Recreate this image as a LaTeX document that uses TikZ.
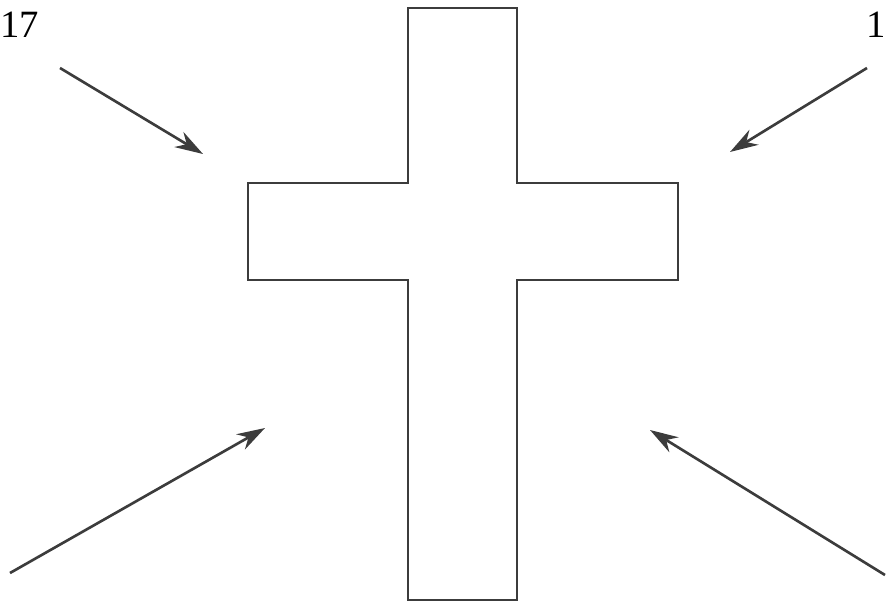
\documentclass[tikz,border=0pt]{standalone}
\usepackage{xcolor}
\usepackage{tikz}
\usepackage{fontspec}
\setmainfont{Liberation Serif}
\usetikzlibrary{arrows.meta}
\definecolor{PencilGray}{RGB}{60,60,60}

\begin{document}
\begin{tikzpicture}[x=0.02cm,y=-0.02cm,
    pencil/.style={draw=PencilGray,line width=1.5pt,line join=miter},
    ray/.style={pencil,-{Stealth[length=16pt,width=10pt]}},
    figno/.style={inner sep=0pt,font=\fontsize{22}{26}\selectfont}]
    \useasboundingbox (0,0) rectangle (888,605);
    % cross outline
    \draw[pencil] (408,8) -- (517,8) -- (517,183) -- (678,183) -- (678,280)
      -- (517,280) -- (517,600) -- (408,600) -- (408,280) -- (248,280)
      -- (248,183) -- (408,183) -- cycle;
    % ray ends
    \coordinate (tlFrom) at (60,68);   \coordinate (tlTo) at (203,154);
    \coordinate (trFrom) at (867,68);  \coordinate (trTo) at (730,152);
    \coordinate (blFrom) at (10,573);  \coordinate (blTo) at (265,428);
    \coordinate (brFrom) at (885,575); \coordinate (brTo) at (650,430);
    \draw[ray] (tlFrom) -- (tlTo);
    \draw[ray] (trFrom) -- (trTo);
    \draw[ray] (blFrom) -- (blTo);
    \draw[ray] (brFrom) -- (brTo);
    % figure numbers
    \node[figno,anchor=north west] (numLeft) at (0,12) {17};
    \node[figno,anchor=north east] (numRight) at (886,12) {1};
\end{tikzpicture}
\end{document}
